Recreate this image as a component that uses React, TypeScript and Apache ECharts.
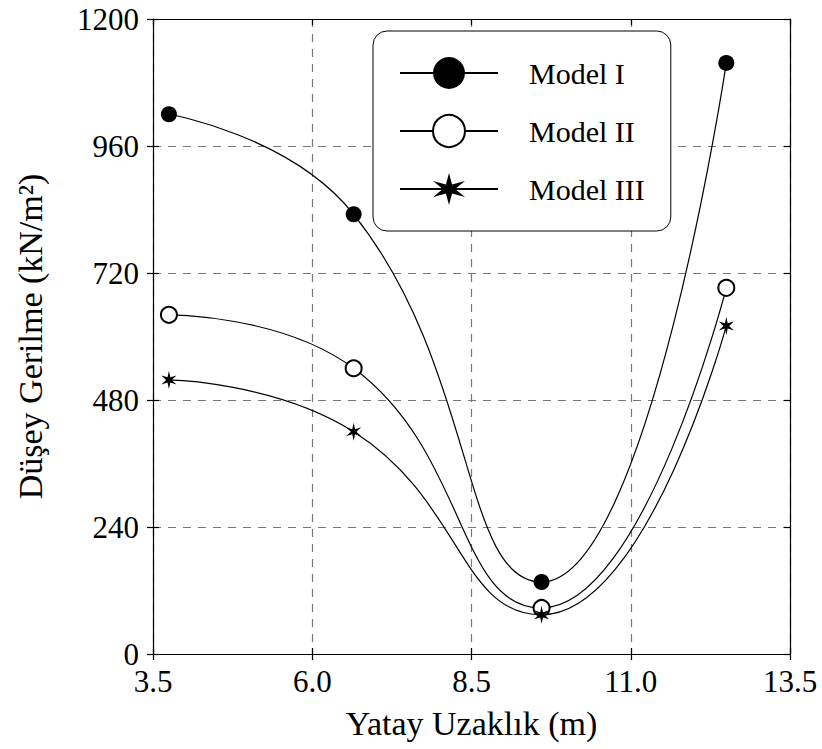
import React, { useEffect, useRef } from "react";
import * as echarts from "echarts";

const xValues = [3.75, 6.65, 9.6, 12.5];
const modelI = [1020, 831, 136, 1117];
const modelII = [641, 540, 87, 692];
const modelIII = [518, 420, 74, 620];
const seriesNames = ["Model I", "Model II", "Model III"];
const xTitle = "Yatay Uzaklık (m)";
const yTitle = "Düşey Gerilme (kN/m²)";

function starPath(): string {
  const pts: string[] = [];
  for (let k = 0; k < 12; k++) {
    const a = ((90 - k * 30) * Math.PI) / 180;
    const r = k % 2 === 0 ? 1 : 0.33;
    const x = (r * Math.cos(a)).toFixed(3);
    const y = (-r * Math.sin(a)).toFixed(3);
    pts.push((k === 0 ? "M" : "L") + x + "," + y);
  }
  return "path://" + pts.join(" ") + " Z";
}

const FONT = "'Liberation Serif', 'Times New Roman', serif";

export default function App() {
  const ref = useRef<HTMLDivElement>(null);
  useEffect(() => {
    if (!ref.current) return;
    const chart = echarts.init(ref.current, undefined, { renderer: "svg" });
    const toPairs = (ys: number[]) => xValues.map((x, i) => [x, ys[i]]);
    const star = starPath();
    const lineStyle = { color: "#000", width: 1.2 };
    const hiddenAxisCommon = {
      type: "value" as const,
      gridIndex: 0,
      axisLabel: { show: false },
      splitLine: { show: false },
      axisLine: { show: true, lineStyle: { color: "#000", width: 1.2 } },
      axisTick: { show: true, inside: true, length: 6, lineStyle: { color: "#000", width: 1.2 } },
    };
    const xRange = { min: 3.5, max: 13.5, interval: 2.5 };
    const yRange = { min: 0, max: 1200, interval: 240 };
    chart.setOption({
      animation: false,
      backgroundColor: "#fff",
      textStyle: { fontFamily: FONT },
      grid: { left: 153, right: 32, top: 19, bottom: 95, containLabel: false },
      xAxis: [
        {
          type: "value",
          ...xRange,
          position: "bottom",
          name: xTitle,
          nameLocation: "middle",
          nameGap: 52,
          nameTextStyle: { fontFamily: FONT, fontSize: 34, color: "#000" },
          axisLine: { show: true, onZero: false, lineStyle: { color: "#000", width: 1.2 } },
          axisTick: { show: true, inside: false, length: 6, lineStyle: { color: "#000", width: 1.2 } },
          axisLabel: {
            margin: 12,
            fontFamily: FONT,
            fontSize: 31,
            color: "#000",
            formatter: (v: number) => v.toFixed(1),
          },
          splitLine: { show: true, lineStyle: { color: "#777", width: 1.2, type: [8, 7] } },
        },
        { ...hiddenAxisCommon, ...xRange, position: "bottom", axisLine: { show: false, onZero: false } },
        { ...hiddenAxisCommon, ...xRange, position: "top", axisLine: { show: true, onZero: false, lineStyle: { color: "#000", width: 1.2 } } },
      ],
      yAxis: [
        {
          type: "value",
          ...yRange,
          position: "left",
          name: yTitle,
          nameLocation: "middle",
          nameGap: 106,
          nameTextStyle: { fontFamily: FONT, fontSize: 34, color: "#000" },
          axisLine: { show: true, onZero: false, lineStyle: { color: "#000", width: 1.2 } },
          axisTick: { show: true, inside: false, length: 6, lineStyle: { color: "#000", width: 1.2 } },
          axisLabel: {
            margin: 14,
            fontFamily: FONT,
            fontSize: 31,
            color: "#000",
            formatter: (v: number) => String(v),
          },
          splitLine: { show: true, lineStyle: { color: "#777", width: 1.2, type: [8, 7] } },
        },
        { ...hiddenAxisCommon, ...yRange, position: "left", axisLine: { show: false, onZero: false } },
        { ...hiddenAxisCommon, ...yRange, position: "right", axisLine: { show: true, onZero: false, lineStyle: { color: "#000", width: 1.2 } } },
      ],
      legend: {
        orient: "vertical",
        left: 373,
        top: 31,
        padding: [26, 26, 26, 26],
        itemWidth: 98,
        itemHeight: 40,
        itemGap: 25,
        borderColor: "#000",
        borderWidth: 1,
        borderRadius: 14,
        backgroundColor: "#fff",
        data: seriesNames,
        textStyle: { fontFamily: FONT, fontSize: 30, color: "#000", padding: [0, 0, 0, 26] },
      },
      series: [
        {
          name: seriesNames[0],
          type: "line",
          data: toPairs(modelI),
          smooth: 0.5,
          symbol: "circle",
          symbolSize: 16,
          itemStyle: { color: "#000" },
          lineStyle,
        },
        {
          name: seriesNames[1],
          type: "line",
          data: toPairs(modelII),
          smooth: 0.5,
          symbol: "emptyCircle",
          symbolSize: 16,
          itemStyle: { color: "#000", borderWidth: 2 },
          lineStyle,
        },
        {
          name: seriesNames[2],
          type: "line",
          data: toPairs(modelIII),
          smooth: 0.5,
          symbol: star,
          symbolSize: [15, 18],
          itemStyle: { color: "#000" },
          lineStyle,
        },
      ],
    });
    return () => chart.dispose();
  }, []);
  return (
    <div
      ref={ref}
      style={{ position: "absolute", left: 0, top: 0, width: 822, height: 749, background: "#fff" }}
    />
  );
}
